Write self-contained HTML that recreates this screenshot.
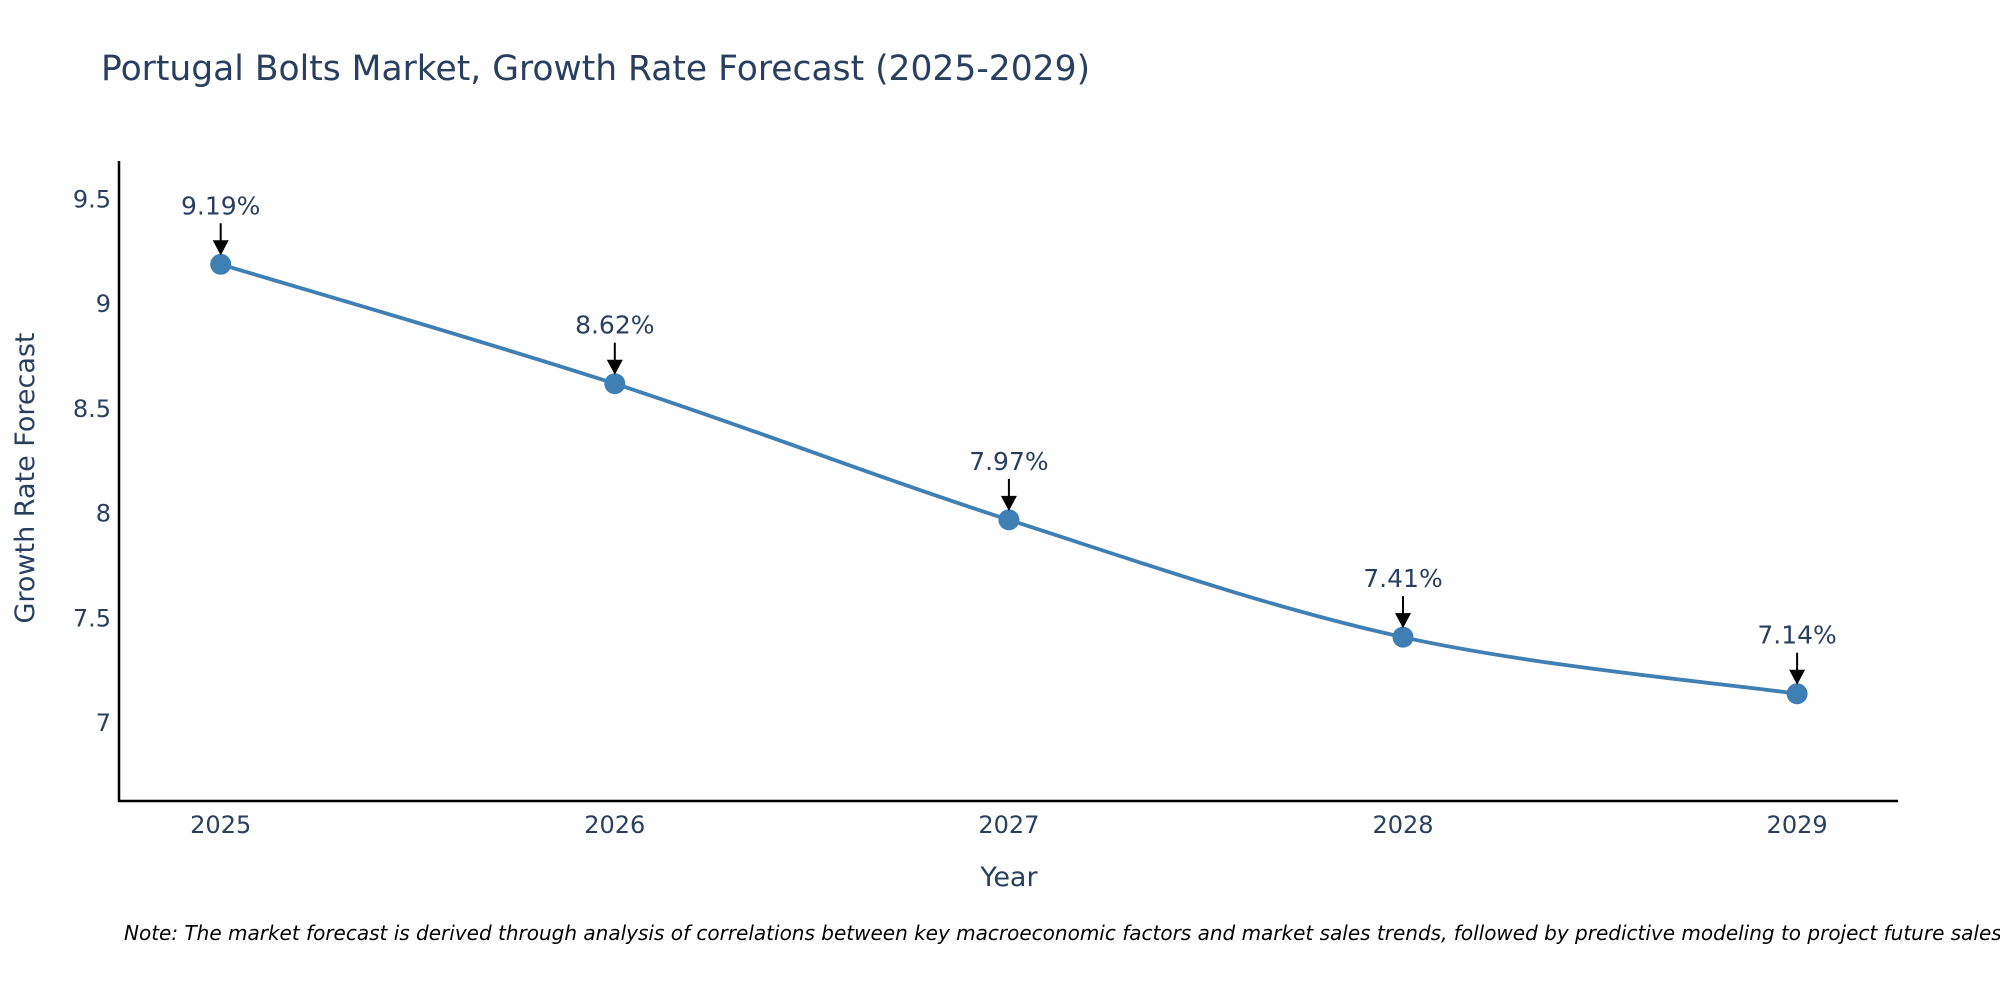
<!DOCTYPE html>
<html><head><meta charset="utf-8"><style>
html,body{margin:0;padding:0;background:#fff;}
svg{display:block;font-family:"DejaVu Sans","Liberation Sans",sans-serif;}
</style></head><body>
<svg id="chart" width="2000" height="1000" viewBox="0 0 2000 1000">
<text x="101" y="80" font-size="34.5" fill="#2a3f5f">Portugal Bolts Market, Growth Rate Forecast (2025-2029)</text>
<g id="yticks"></g>
<g id="xticks"></g>
<line x1="119" y1="161" x2="119" y2="802" stroke="#000" stroke-width="2.5"/>
<line x1="118" y1="801" x2="1898" y2="801" stroke="#000" stroke-width="2.5"/>
<path id="series-line" fill="none" stroke="#3f7fb3" stroke-width="3.8"/>
<g id="marks"></g>
<text x="1009" y="886" font-size="27" fill="#2a3f5f" text-anchor="middle">Year</text>
<text x="0" y="0" font-size="27" fill="#2a3f5f" text-anchor="middle" transform="translate(34,478) rotate(-90)">Growth Rate Forecast</text>
<text x="124" y="940" font-size="20" font-style="italic" fill="#000">Note: The market forecast is derived through analysis of correlations between key macroeconomic factors and market sales trends, followed by predictive modeling to project future sales.</text>
</svg>
<script>
const years = [2025, 2026, 2027, 2028, 2029];
const values = [9.19, 8.62, 7.97, 7.41, 7.14];
const labels = ["9.19%", "8.62%", "7.97%", "7.41%", "7.14%"];
const yTicks = [7, 7.5, 8, 8.5, 9, 9.5];
const yTickLabels = ["7", "7.5", "8", "8.5", "9", "9.5"];

const NS = "http://www.w3.org/2000/svg";
const yMin = 6.628, yMax = 9.683, pTop = 161, pBot = 801;
function yScale(v){ return pBot - (v - yMin) / (yMax - yMin) * (pBot - pTop); }
function xScale(yr){ return 220.7 + (yr - 2025) * 394.1; }
function mk(tag, attrs, parent){ const e = document.createElementNS(NS, tag); for (const k in attrs) e.setAttribute(k, attrs[k]); parent.appendChild(e); return e; }

const yg = document.getElementById('yticks');
yTicks.forEach((t, i) => {
  const e = mk('text', {x: 111, y: yScale(t) + 8, 'font-size': 24, fill: '#2a3f5f', 'text-anchor': 'end'}, yg);
  
  
  e.textContent = yTickLabels[i];
});
const xg = document.getElementById('xticks');
years.forEach(yr => {
  const e = mk('text', {x: xScale(yr), y: 833, 'font-size': 24, fill: '#2a3f5f', 'text-anchor': 'middle'}, xg);
  
  
  e.textContent = String(yr);
});

const pts = years.map((yr, i) => [xScale(yr), yScale(values[i])]);
let d = `M${pts[0][0]},${pts[0][1]}`;
const tension = 0.17;
for (let i = 0; i < pts.length - 1; i++) {
  const p0 = pts[Math.max(i - 1, 0)], p1 = pts[i], p2 = pts[i + 1], p3 = pts[Math.min(i + 2, pts.length - 1)];
  const c1 = [p1[0] + (p2[0] - p0[0]) * tension, p1[1] + (p2[1] - p0[1]) * tension];
  const c2 = [p2[0] - (p3[0] - p1[0]) * tension, p2[1] - (p3[1] - p1[1]) * tension];
  d += ` C${c1[0]},${c1[1]} ${c2[0]},${c2[1]} ${p2[0]},${p2[1]}`;
}
document.getElementById('series-line').setAttribute('d', d);

const mg = document.getElementById('marks');
pts.forEach((p, i) => {
  const c = mk('circle', {cx: p[0], cy: p[1], r: 10.5, fill: '#3f7fb3'}, mg);
  
  
  const l = mk('line', {x1: p[0], y1: p[1] - 41, x2: p[0], y2: p[1] - 20, stroke: '#000', 'stroke-width': 2}, mg);
  
  
  const a = mk('polygon', {points: `${p[0]-8},${p[1]-24} ${p[0]+8},${p[1]-24} ${p[0]},${p[1]-9}`, fill: '#000'}, mg);
  
  
  const t = mk('text', {x: p[0], y: p[1] - 50, 'font-size': 25, fill: '#2a3f5f', 'text-anchor': 'middle'}, mg);
  
  
  t.textContent = labels[i];
});
</script>
</body></html>
